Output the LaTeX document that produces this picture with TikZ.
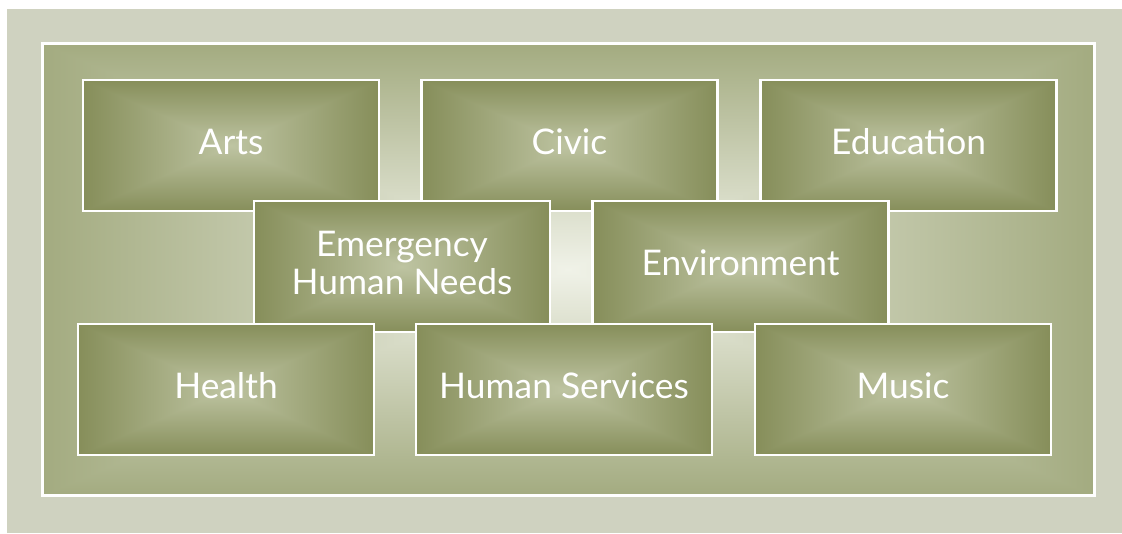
\documentclass[tikz,border=0pt]{standalone}
\usepackage{fontspec}
\setmainfont{Lato}

\definecolor{matgray}{HTML}{CFD2C0}
\definecolor{frameedge}{HTML}{A3AB80}
\definecolor{framecore}{HTML}{F0F2E8}
\definecolor{tileedge}{HTML}{868E5A}
\definecolor{tilecore}{HTML}{BEC4A2}

\tikzset{
  boxshade/.style 2 args={path picture={
    \shade[left color=#1,right color=#1,middle color=#2] (path picture bounding box.north west) rectangle (path picture bounding box.south east);
    \shade[top color=#1,bottom color=#2] (path picture bounding box.north west) -- (path picture bounding box.north east) -- (path picture bounding box.center) -- cycle;
    \shade[bottom color=#1,top color=#2] (path picture bounding box.south west) -- (path picture bounding box.south east) -- (path picture bounding box.center) -- cycle;
  }},
  framebox/.style={draw=white, line width=2.25pt, minimum width=789pt, minimum height=339pt, inner sep=0pt, boxshade={frameedge}{framecore}},
  tile/.style={draw=white, line width=1.9pt, minimum width=222pt, minimum height=98.5pt, inner sep=0pt, text=white, align=center, text depth=6pt, font=\fontsize{26.5}{28.5}\selectfont, boxshade={tileedge}{tilecore}}
}

\begin{document}
\begin{tikzpicture}[x=0.75pt,y=-0.75pt]
\useasboundingbox (0,0) rectangle (1122,533);
\fill[white] (0,0) rectangle (1122,533);
\fill[matgray] (7,9) rectangle (1122,533);

\node[framebox] (frame) at (568,269.5) {};

% top row
\node[tile] (arts) at (231,145.5) {Arts};
\node[tile] (civic) at (569.5,145.5) {Civic};
\node[tile] (education) at (908.5,145.5) {Education};
% middle row
\node[tile] (emergency) at (402,266.5) {Emergency\\Human Needs};
\node[tile] (environment) at (740.5,266.5) {Environment};
% bottom row
\node[tile] (health) at (226,389.5) {Health};
\node[tile] (services) at (564,389.5) {Human Services};
\node[tile] (music) at (903,389.5) {Music};
\end{tikzpicture}
\end{document}
